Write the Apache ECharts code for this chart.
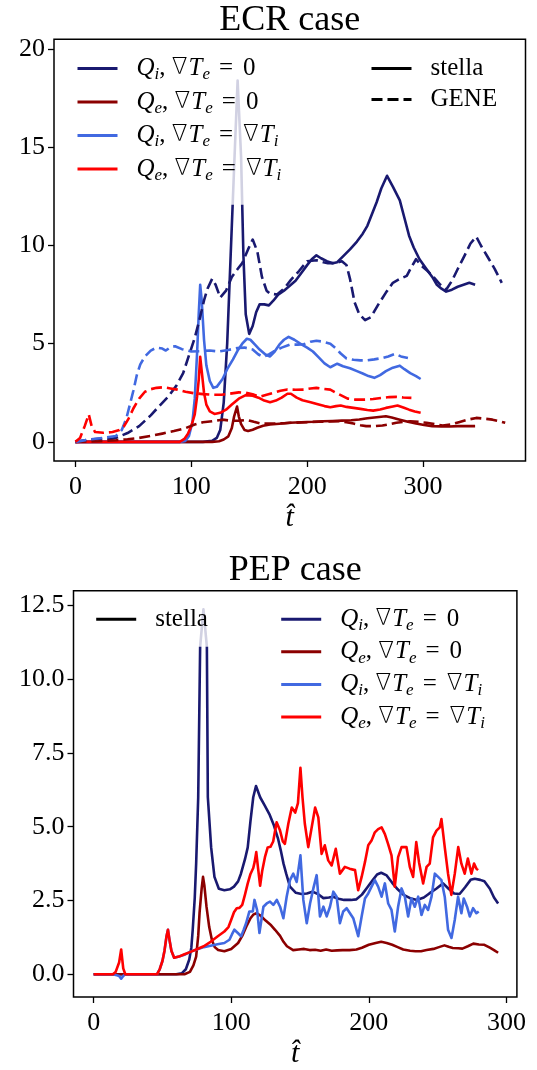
<!DOCTYPE html>
<html><head><meta charset="utf-8">
<script src="https://cdn.jsdelivr.net/npm/echarts@6/dist/echarts.min.js"></script>
<style>html,body{margin:0;padding:0;background:#fff}#c{width:537px;height:1070px}</style>
</head><body><div id="c"></div>
<script>
// ---------- tick labels ----------
const xTicksECR = [0, 100, 200, 300];
const yTicksECR = [0, 5, 10, 15, 20];
const xTicksPEP = [0, 100, 200, 300];
const yTicksPEP = [0, 2.5, 5, 7.5, 10, 12.5];

// ---------- ECR case: stella (solid) ----------
const ecrQiGradZeroStella = [[0,0],[110,0],[118,0.05],[122,0.2],[125,0.6],[128,2],[131,5],[134,9.5],[137,14],[140,18.4],[143,14.5],[145,9.5],[147,6.5],[150,5.5],[153,5.9],[156,6.6],[159,7.0],[163,7.0],[167,6.95],[171,7.2],[175,7.5],[180,7.7],[185,7.95],[190,8.2],[195,8.6],[200,9.0],[204,9.3],[208,9.5],[212,9.35],[217,9.2],[222,9.1],[226,9.15],[231,9.45],[237,9.8],[243,10.2],[248,10.6],[252,11.0],[256,11.6],[260,12.2],[264,12.9],[269,13.55],[274,13.0],[280,12.3],[284,11.4],[288,10.5],[292,9.9],[297,9.3],[303,8.8],[308,8.4],[312,8.0],[316,7.8],[320,7.65],[325,7.75],[330,7.9],[335,8.0],[340,8.1],[345,8.0]];
const ecrQeGradZeroStella = [[0,0],[118,0],[124,0.03],[128,0.12],[132,0.28],[135,0.7],[137,1.3],[139.5,1.8],[141,1.3],[143,0.9],[146,0.6],[149,0.55],[153,0.62],[157,0.72],[162,0.82],[168,0.88],[176,0.92],[185,0.97],[195,1.0],[205,1.02],[214,1.05],[222,1.06],[230,1.08],[238,1.1],[245,1.14],[252,1.2],[258,1.24],[264,1.28],[268,1.3],[273,1.24],[280,1.13],[287,1.02],[294,0.93],[301,0.86],[308,0.8],[316,0.79],[323,0.78],[330,0.8],[338,0.8],[345,0.8]];
const ecrQiGradEqStella = [[0,0],[90,0],[95,0.05],[98,0.3],[101,1.0],[103,2.2],[105,4.5],[106.5,6.6],[107.7,8.0],[109,7.2],[111,5.2],[113,3.9],[116,3.1],[119,2.75],[122,2.8],[127,3.2],[131,3.7],[136,4.2],[140,4.65],[144,5.0],[148,5.25],[151,5.2],[155,4.95],[159,4.7],[164,4.45],[168,4.35],[172,4.6],[176,4.95],[180,5.2],[184,5.35],[189,5.2],[194,5.0],[200,4.8],[205,4.6],[210,4.3],[215,4.0],[220,3.8],[226,3.98],[231,3.85],[237,3.75],[243,3.6],[248,3.48],[253,3.35],[258,3.26],[263,3.4],[268,3.6],[274,3.78],[280,3.88],[284,3.7],[289,3.5],[294,3.35],[298,3.2]];
const ecrQeGradEqStella = [[0,0],[90,0],[94,0.15],[97,0.4],[100,0.8],[103,1.4],[105,2.3],[106.5,3.2],[107.7,4.33],[109,3.6],[111,2.5],[113,1.9],[116,1.55],[120,1.42],[125,1.48],[130,1.64],[135,1.9],[141,2.2],[147,2.38],[153,2.35],[158,2.25],[163,2.1],[168,2.02],[173,2.1],[178,2.25],[183,2.45],[186,2.45],[191,2.25],[196,2.12],[203,2.02],[210,1.9],[215,1.82],[220,1.76],[225,1.82],[229,1.85],[234,1.78],[240,1.73],[246,1.68],[252,1.62],[257,1.59],[263,1.65],[268,1.73],[274,1.8],[278,1.85],[283,1.75],[288,1.64],[293,1.55],[298,1.48]];

// ---------- ECR case: GENE (dashed) ----------
const ecrQiGradZeroGene = [[0,0],[10,0.1],[20,0.15],[30,0.15],[35,0.2],[45,0.45],[55,0.8],[65,1.35],[72,1.8],[80,2.3],[87,2.85],[93,3.5],[98,4.4],[103,5.3],[107,6.2],[111,7.2],[114,7.8],[118,8.3],[121,8.0],[125,7.35],[130,7.7],[135,8.4],[140,8.8],[144,9.1],[149,9.8],[153,10.3],[157,9.7],[161,8.4],[165,7.7],[168,7.55],[174,7.5],[180,7.8],[186,8.25],[193,8.7],[200,9.2],[208,9.25],[214,9.15],[218,9.1],[224,9.1],[230,9.2],[234,9.0],[237,8.3],[241,7.1],[245,6.5],[250,6.2],[255,6.35],[262,7.05],[268,7.6],[274,8.1],[280,8.3],[286,8.45],[290,8.9],[294,9.3],[299,8.95],[304,8.7],[309,8.4],[315,8.0],[320,7.75],[325,8.2],[330,8.8],[336,9.5],[341,10.1],[346,10.45],[350,10.0],[356,9.4],[362,8.8],[368,8.1]];
const ecrQeGradZeroGene = [[0,0],[20,0.03],[35,0.08],[45,0.13],[55,0.2],[65,0.3],[75,0.42],[85,0.55],[95,0.7],[103,0.88],[110,1.0],[118,1.05],[127,1.13],[135,1.07],[142,1.08],[148,1.12],[154,1.02],[160,0.93],[170,0.93],[180,0.95],[190,0.98],[200,1.0],[210,1.02],[220,1.04],[228,1.05],[234,1.0],[240,0.93],[246,0.85],[251,0.8],[258,0.8],[265,0.83],[271,0.9],[277,0.97],[283,1.02],[289,1.05],[296,1.02],[303,0.97],[310,0.9],[317,0.83],[324,0.88],[331,1.0],[338,1.12],[346,1.22],[353,1.18],[360,1.13],[366,1.05],[371,0.97]];
const ecrQiGradEqGene = [[0,0],[5,0.05],[12,0.12],[24,0.2],[35,0.3],[40,0.6],[44,1.2],[47,1.9],[50,2.6],[53,3.4],[56,3.95],[60,4.35],[65,4.65],[70,4.8],[75,4.75],[78,4.65],[82,4.82],[86,4.87],[92,4.72],[100,4.6],[108,4.62],[116,4.65],[124,4.6],[132,4.68],[140,4.78],[146,4.8],[153,4.7],[158,4.45],[162,4.33],[167,4.45],[171,4.6],[178,4.8],[185,4.95],[192,4.95],[197,4.97],[203,5.1],[208,5.15],[214,5.1],[220,5.0],[225,4.75],[229,4.5],[234,4.25],[240,4.18],[246,4.15],[252,4.15],[258,4.2],[265,4.27],[270,4.35],[276,4.48],[281,4.35],[287,4.27]];
const ecrQeGradEqGene = [[0,0],[4,0.2],[8,0.8],[11.5,1.4],[14,0.8],[17,0.5],[24,0.46],[32,0.5],[38,0.6],[42,0.8],[46,1.2],[50,1.7],[55,2.2],[60,2.55],[65,2.68],[70,2.75],[76,2.78],[82,2.72],[88,2.66],[95,2.55],[102,2.48],[110,2.43],[118,2.4],[126,2.4],[133,2.45],[141,2.52],[147,2.5],[153,2.42],[159,2.3],[165,2.4],[171,2.5],[177,2.6],[183,2.67],[190,2.65],[197,2.66],[203,2.72],[208,2.75],[214,2.7],[220,2.66],[225,2.5],[229,2.38],[235,2.2],[242,2.15],[250,2.15],[257,2.18],[265,2.24],[271,2.28],[277,2.29],[283,2.26],[290,2.24]];

// ---------- PEP case: stella ----------
const pepQiGradZero = [[0,0],[60,0],[64,0.03],[67,0.17],[69.5,0.5],[71,0.9],[72,1.5],[73.5,2.6],[74.5,3.75],[76,6.0],[77.4,11.1],[79.8,12.37],[82.3,11.1],[83,6],[85.4,4.3],[87.8,3.3],[91,2.9],[95,2.85],[99,2.88],[102,2.97],[105,3.15],[107,3.4],[110,3.9],[112,4.3],[114,5.2],[116,6.0],[118,6.38],[121,6.0],[124,5.75],[128,5.4],[131,5.05],[134,4.6],[136,4.2],[138,3.75],[140,3.4],[142.7,2.97],[147,2.76],[151,2.72],[155,2.74],[159,2.8],[163,2.72],[167,2.58],[171,2.6],[174,2.63],[178,2.56],[182,2.52],[187,2.52],[191,2.54],[195,2.7],[199,2.95],[203,3.2],[206,3.38],[209,3.44],[213,3.35],[217,3.1],[221,2.88],[225,2.7],[230,2.58],[235,2.52],[240,2.6],[244,2.74],[249,2.9],[254,3.08],[258,2.9],[262,2.74],[266,2.72],[270,2.95],[274,3.2],[277,3.24],[281,3.2],[284,3.15],[288,2.9],[291,2.6],[294,2.4]];
const pepQeGradZero = [[0,0],[66,0],[70,0.08],[72.5,0.3],[74.5,0.6],[76,1.3],[77,2.1],[78.5,2.9],[79.5,3.3],[80.5,3.0],[82,2.3],[84,1.6],[86,1.15],[88,0.92],[90.5,0.82],[95,0.78],[100,0.86],[105,1.06],[108,1.3],[111,1.62],[114,1.9],[116,2.02],[118.4,2.07],[121,2.0],[125,1.82],[129,1.66],[132,1.5],[135.5,1.3],[138,1.1],[140.5,0.95],[145,0.82],[149,0.84],[153,0.86],[157,0.82],[161,0.83],[165,0.8],[169,0.84],[173,0.8],[177,0.81],[181,0.82],[186,0.82],[191,0.84],[195,0.9],[200,1.0],[205,1.06],[209,1.1],[213,1.06],[217,1.0],[221,0.92],[225,0.84],[230,0.8],[234,0.78],[238,0.78],[242,0.82],[247,0.86],[251,0.92],[255,0.98],[258,0.93],[261,0.89],[265,0.88],[268,0.87],[272,0.95],[276,1.04],[280,1.01],[284,1.0],[288,0.9],[291,0.82],[294,0.73]];
const pepQiGradEq = [[0,0],[14,0],[16,-0.02],[18.5,-0.06],[20,-0.15],[21.5,-0.06],[23,0],[46,0],[48,0.17],[50,0.45],[51.5,0.8],[53,1.3],[54,1.51],[55,1.2],[56.5,0.8],[58.5,0.56],[62,0.6],[66,0.66],[70,0.76],[76,0.86],[80,0.92],[85,0.97],[90,1.02],[95,1.06],[98.7,1.17],[100.5,1.35],[102.3,1.51],[104.8,1.4],[107.2,1.29],[109,1.5],[110.8,1.73],[113.2,2.13],[115.7,2.13],[116.9,2.52],[118.8,2.18],[120.5,1.4],[123.4,2.29],[125.8,2.4],[128.2,2.46],[130.6,2.35],[133.1,2.52],[135.5,2.29],[137.9,1.9],[140.3,2.63],[142.7,3.19],[145.1,3.41],[147.6,3.13],[150.3,4.03],[152.4,2.52],[154.9,1.73],[157.3,2.4],[159.7,2.91],[162.1,3.36],[164.5,1.96],[167,2.29],[169.4,1.96],[171.8,2.29],[174.2,2.8],[176.6,2.63],[179,1.73],[181.4,2.13],[183.9,2.24],[186.3,2.07],[188.7,1.9],[192.3,1.29],[194.8,1.96],[197.2,2.57],[199.6,2.74],[202,2.97],[204.4,3.19],[206.8,2.97],[209.3,2.63],[211.7,3.08],[214.1,2.4],[216.5,2.18],[218.9,1.45],[221.3,2.29],[223.8,2.91],[226.2,2.63],[228.6,1.96],[231,2.57],[233.4,2.29],[235.9,2.63],[238.3,2.01],[240.7,2.35],[243.1,2.18],[245.6,2.63],[248,3.41],[250.4,3.3],[252.8,3.19],[255.2,2.63],[257.6,1.51],[260.1,1.23],[262.5,1.85],[264.9,2.63],[267.3,2.07],[269,2.57],[271.4,2.29],[273.4,1.96],[275.8,2.24],[278.2,2.07],[279.9,2.13]];
const pepQeGradEq = [[0,0],[14,0],[16,0.08],[18.5,0.4],[20,0.84],[21.5,0.2],[23,0],[46,0],[48,0.17],[50,0.45],[51.5,0.8],[53,1.3],[54,1.51],[55,1.2],[56.5,0.8],[58.5,0.56],[62,0.6],[66,0.68],[70,0.75],[75,0.85],[80,0.95],[85,1.1],[90,1.28],[95,1.45],[98,1.6],[100,1.85],[102,2.1],[104,2.24],[106,2.25],[108,2.35],[110,2.7],[112,3.08],[114,3.4],[116,3.6],[117,3.8],[118.2,4.14],[119.5,3.6],[121,3.0],[122.5,3.5],[124.5,3.97],[126.5,4.3],[128.5,4.32],[130.5,4.5],[133,5.15],[135.5,4.87],[137.5,4.5],[139,4.42],[141.5,5.1],[144,5.65],[146.5,5.48],[148.5,5.8],[150.3,7.0],[151.8,6.0],[153.5,5.1],[156,4.31],[158.5,4.98],[161,5.65],[163.3,5.32],[165.7,4.08],[168,4.37],[170.5,3.86],[173,3.69],[176,4.25],[179,3.41],[182.6,3.64],[186,3.58],[190,3.53],[192.3,2.85],[194.8,3.3],[197.2,3.8],[199.6,4.37],[202,4.53],[204.4,4.81],[206.8,4.92],[209.3,4.98],[211.7,4.75],[214,4.42],[216.5,4.03],[218.9,2.97],[221.3,3.97],[223.8,4.31],[227.4,4.31],[229.8,3.64],[232.2,3.3],[234.5,4.48],[236.5,3.8],[239.5,3.08],[242,3.64],[244.3,3.75],[246.7,4.64],[249.2,4.87],[251.6,4.98],[252.8,5.26],[255.2,4.31],[257.6,3.41],[260,2.69],[262.5,3.41],[265,4.31],[267.3,3.75],[269.7,3.41],[272,3.92],[274.6,3.41],[276.5,3.75],[278.2,3.58],[279.4,3.53]];

// ---------- styling ----------
const NAVY = '#191970', DARKRED = '#8B0000', BLUE = '#4169E1', RED = '#FF0000';
const FONT = 'Liberation Serif';
const LW = 2.6;
const DASH = [11, 5];

function line(name, data, color, gi, dashed) {
  return {
    type: 'line', name: name, data: data, xAxisIndex: gi, yAxisIndex: gi,
    symbol: 'none', showSymbol: false, animation: false, silent: true, z: 2,
    color: color,
    lineStyle: { color: color, width: LW, type: dashed ? DASH : 'solid', cap: 'butt', join: 'round' }
  };
}

const labelMap = {
  Qi0: '{it|Q}{sub|i}{n|, }{nb|∇}{it|T}{sub|e}{eq|=}{n|0}',
  Qe0: '{it|Q}{sub|e}{n|, }{nb|∇}{it|T}{sub|e}{eq|=}{n|0}',
  Qi1: '{it|Q}{sub|i}{n|, }{nb|∇}{it|T}{sub|e}{eq|=}{nb|∇}{it|T}{sub|i}',
  Qe1: '{it|Q}{sub|e}{n|, }{nb|∇}{it|T}{sub|e}{eq|=}{nb|∇}{it|T}{sub|i}',
  stella: '{n|stella}',
  GENE: '{n|GENE}'
};
const rich = {
  n: { fontFamily: FONT, fontSize: 25, lineHeight: 30, color: '#000' },
  nb: { fontFamily: 'DejaVu Sans', fontWeight: 200, fontSize: 23, lineHeight: 30, color: '#000', padding: [0, 1, 0, 0] },
  eq: { fontFamily: FONT, fontSize: 25, lineHeight: 30, color: '#000', padding: [0, 10, 0, 9] },
  it: { fontFamily: FONT, fontSize: 25, fontStyle: 'italic', lineHeight: 30, color: '#000' },
  sub: { fontFamily: FONT, fontSize: 17, fontStyle: 'italic', lineHeight: 17, verticalAlign: 'bottom', color: '#000' }
};
function legend(names, left, top, gap) {
  return {
    data: names, left: left, top: top, orient: 'vertical', z: 20,
    itemWidth: 40, itemHeight: 30, itemGap: gap,
    padding: [10, 10, 10, 15],
    selectedMode: false,
    itemStyle: { opacity: 0 },
    lineStyle: { width: 3 },
    formatter: n => labelMap[n],
    textStyle: { fontFamily: FONT, fontSize: 25, color: '#000', padding: [0, 0, 0, 14], rich: rich }
  };
}

function xAxis(gi, min, max, ticks) {
  return {
    type: 'value', gridIndex: gi, min: min, max: max, position: 'bottom',
    name: 't\u0302', nameLocation: 'middle', nameGap: 42,
    nameTextStyle: { fontFamily: FONT, fontSize: 30, fontStyle: 'italic', color: '#000' },
    axisLine: { show: false, onZero: false },
    splitLine: { show: false },
    axisTick: { show: true, length: 6, customValues: ticks, lineStyle: { color: '#000', width: 1.3 } },
    axisLabel: { customValues: ticks, margin: 13, fontFamily: FONT, fontSize: 26, color: '#000' }
  };
}
function yAxis(gi, min, max, ticks, fmt) {
  return {
    type: 'value', gridIndex: gi, min: min, max: max, position: 'left',
    axisLine: { show: false, onZero: false },
    splitLine: { show: false },
    axisTick: { show: true, length: 6, customValues: ticks, lineStyle: { color: '#000', width: 1.3 } },
    axisLabel: { customValues: ticks, margin: 9, fontFamily: FONT, fontSize: 26, color: '#000', formatter: fmt }
  };
}

// semi-transparent legend frames (matplotlib framealpha 0.8, no edge)
const FRAME = 'rgba(255,255,255,0.8)';

const chart = echarts.init(document.getElementById('c'), null, { renderer: 'canvas' });
chart.setOption({
  animation: false,
  backgroundColor: '#fff',
  textStyle: { fontFamily: FONT, color: '#000' },
  graphic: [
    { type: 'text', x: 289.8, y: 21, style: { text: 'ECR case', fontFamily: FONT, fontSize: 36, fill: '#000', align: 'center', verticalAlign: 'middle' } },
    { type: 'text', x: 295.2, y: 570.5, style: { text: 'PEP case', fontFamily: FONT, fontSize: 36, fill: '#000', align: 'center', verticalAlign: 'middle' } },
    { type: 'rect', z: 10, silent: true, shape: { x: 61, y: 46, width: 245, height: 158.7 }, style: { fill: FRAME } },
    { type: 'rect', z: 10, silent: true, shape: { x: 355, y: 46, width: 160, height: 86 }, style: { fill: FRAME } },
    { type: 'rect', z: 10, silent: true, shape: { x: 79.7, y: 596.7, width: 136, height: 50 }, style: { fill: FRAME } },
    { type: 'rect', z: 10, silent: true, shape: { x: 264.7, y: 596.7, width: 248, height: 155 }, style: { fill: FRAME } }
  ],
  grid: [
    { left: 54, top: 39.3, width: 471.5, height: 421.7, show: true, borderColor: '#000', borderWidth: 1.5, backgroundColor: 'transparent' },
    { left: 73.5, top: 590.7, width: 443.4, height: 410, show: true, borderColor: '#000', borderWidth: 1.5, backgroundColor: 'transparent' }
  ],
  xAxis: [ xAxis(0, -18.5, 388.5, xTicksECR), xAxis(1, -14.65, 307.65, xTicksPEP) ],
  yAxis: [ yAxis(0, -0.975, 20.5, yTicksECR, v => String(v)), yAxis(1, -0.77, 13.0, yTicksPEP, v => v.toFixed(1)) ],
  legend: [
    legend(['Qi0', 'Qe0', 'Qi1', 'Qe1'], 61, 46, 6),
    legend(['stella', 'GENE'], 355, 46, 6),
    legend(['stella'], 79.7, 596.7, 5),
    legend(['Qi0', 'Qe0', 'Qi1', 'Qe1'], 264.7, 596.7, 5.1)
  ],
  series: [
    // legend-only keys
    line('stella', [], '#000', 0, false),
    line('GENE', [], '#000', 0, true),
    // ECR stella
    line('Qi0', ecrQiGradZeroStella, NAVY, 0, false),
    line('Qe0', ecrQeGradZeroStella, DARKRED, 0, false),
    line('Qi1', ecrQiGradEqStella, BLUE, 0, false),
    line('Qe1', ecrQeGradEqStella, RED, 0, false),
    // ECR GENE
    line('Qi0 GENE', ecrQiGradZeroGene, NAVY, 0, true),
    line('Qe0 GENE', ecrQeGradZeroGene, DARKRED, 0, true),
    line('Qi1 GENE', ecrQiGradEqGene, BLUE, 0, true),
    line('Qe1 GENE', ecrQeGradEqGene, RED, 0, true),
    // PEP stella
    line('Qi0', pepQiGradZero, NAVY, 1, false),
    line('Qe0', pepQeGradZero, DARKRED, 1, false),
    line('Qi1', pepQiGradEq, BLUE, 1, false),
    line('Qe1', pepQeGradEq, RED, 1, false)
  ]
});
</script>
</body></html>
